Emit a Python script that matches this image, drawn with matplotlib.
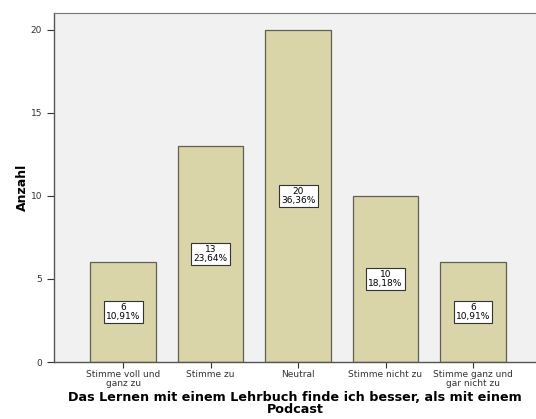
import numpy as np
import matplotlib
matplotlib.use('Agg')
import matplotlib.pyplot as plt

categories = ['Stimme voll und\nganz zu', 'Stimme zu', 'Neutral',
              'Stimme nicht zu', 'Stimme ganz und\ngar nicht zu']
counts = [6, 13, 20, 10, 6]
percents = ['10,91%', '23,64%', '36,36%', '18,18%', '10,91%']

fig = plt.figure(figsize=(5.36, 4.19), dpi=100)
ax = fig.add_axes([54 / 536, 57 / 419, 1 - 54 / 536, (362 - 13) / 419])
ax.set_facecolor('#f1f1f1')

x = np.arange(len(categories))
ax.bar(x, counts, width=0.75, color='#d9d5a9', edgecolor='#5f5f55', linewidth=0.9, zorder=2)

for xi, c, p in zip(x, counts, percents):
    ax.text(xi, c / 2, f'{c}\n{p}', ha='center', va='center', fontsize=6.5,
            linespacing=0.95, zorder=3,
            bbox=dict(boxstyle='square,pad=0.25', fc='white', ec='#333333', lw=0.8))

ax.set_xlim(-0.79, 4.72)
ax.set_ylim(0, 21.0)
ax.set_yticks([0, 5, 10, 15, 20])
ax.set_xticks(x)
ax.set_xticklabels(categories, fontsize=6.5, linespacing=1.0)
ax.tick_params(axis='y', labelsize=6.5, length=5, width=0.8, colors='#333333')
ax.tick_params(axis='x', length=4, width=0.8, colors='#333333', pad=2)

for s in ['left', 'bottom']:
    ax.spines[s].set_color('#555555')
    ax.spines[s].set_linewidth(1.0)
ax.spines['top'].set_color('#777777')
ax.spines['right'].set_visible(False)

ax.set_ylabel('Anzahl', fontsize=9, fontweight='bold', labelpad=1)
ax.set_xlabel('Das Lernen mit einem Lehrbuch finde ich besser, als mit einem\nPodcast',
              fontsize=9.2, fontweight='bold', linespacing=0.85, labelpad=2)

fig.savefig('out.png', dpi=100)
